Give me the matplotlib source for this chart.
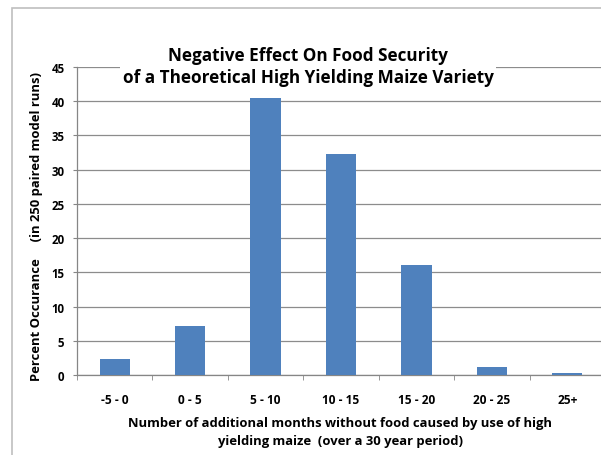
import matplotlib
matplotlib.use("Agg")
import matplotlib.pyplot as plt
from matplotlib.patches import Rectangle
import numpy as np

categories = ["-5 - 0", "0 - 5", "5 - 10", "10 - 15", "15 - 20", "20 - 25", "25+"]
values = [2.3, 7.2, 40.4, 32.3, 16.1, 1.2, 0.3]
yticks = [0, 5, 10, 15, 20, 25, 30, 35, 40, 45]

plt.rcParams['font.family'] = ['Open Sans', 'DejaVu Sans']

W, H = 601, 456
fig = plt.figure(figsize=(W / 100, H / 100), dpi=100)
ax = fig.add_axes([77 / W, 1 - 376 / H, (605 - 77) / W, (376 - 68) / H])

x = np.arange(len(categories))
ax.bar(x, values, width=0.4, color="#4f81bd", zorder=3)
ax.set_xlim(-0.5, len(categories) - 0.5)
ax.set_ylim(0, 45)
ax.set_yticks(yticks)
ax.set_yticklabels([str(t) for t in yticks], fontsize=8.3, fontweight='bold')
ax.set_xticks(x)
ax.set_xticklabels(categories, fontsize=8.6, fontweight='bold')
ax.set_xticks(np.arange(len(categories) + 1) - 0.5, minor=True)
ax.tick_params(axis='x', which='major', length=0, pad=13)
ax.tick_params(axis='x', which='minor', length=3.5, color="#868686", direction='out')
ax.tick_params(axis='y', which='major', length=3, color="#868686", pad=6)
ax.yaxis.grid(True, color="#8c8c8c", linewidth=0.9, zorder=0)
ax.set_axisbelow(True)
for s in ["top", "right"]:
    ax.spines[s].set_visible(False)
for s in ["left", "bottom"]:
    ax.spines[s].set_color("#868686")
    ax.spines[s].set_linewidth(0.9)

# outer chart frame (partially cropped)
fig.patches.append(Rectangle((12 / W, -0.2), 1.2, 1.2 - 9 / H, transform=fig.transFigure,
                             fill=False, edgecolor="#bfbfbf", linewidth=1.2, clip_on=False))

# title with white background
fig.text(308 / W, 1 - 67 / H, "Negative Effect On Food Security\nof a Theoretical High Yielding Maize Variety",
         ha='center', va='center', fontsize=12.3, fontweight='bold', linespacing=1.3,
         bbox=dict(facecolor='white', edgecolor='none', pad=2))

fig.text(37 / W, 1 - 227 / H, "Percent Occurance     (in 250 paired model runs)",
         rotation=90, ha='center', va='center', fontsize=9.4, fontweight='bold')

fig.text(340 / W, 1 - 423 / H, "Number of additional months without food caused by use of high",
         ha='center', va='center', fontsize=9.4, fontweight='bold')
fig.text(340 / W, 1 - 442 / H, "yielding maize  (over a 30 year period)",
         ha='center', va='center', fontsize=9.4, fontweight='bold')

fig.savefig("out.png", dpi=100)
